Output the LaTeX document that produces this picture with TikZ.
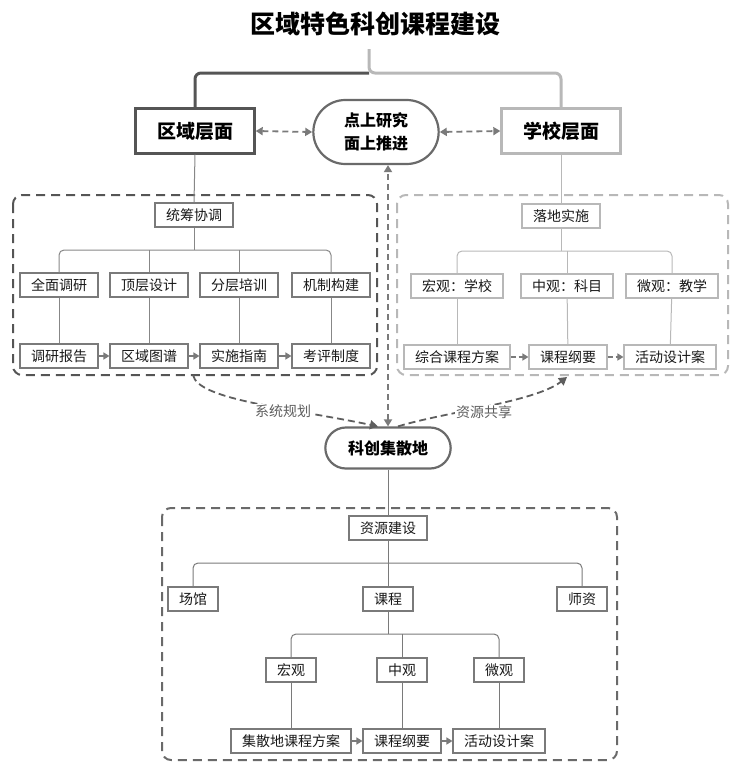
\documentclass[tikz,border=0pt]{standalone}
\usepackage{fontspec}
\setmainfont{Noto Sans CJK SC}
\usetikzlibrary{arrows.meta}
\usetikzlibrary{shapes.misc}

\definecolor{regiongray}{HTML}{555555}
\definecolor{schoolgray}{HTML}{B8B8B8}
\definecolor{boxgray}{HTML}{7A7A7A}
\definecolor{hubgray}{HTML}{6A6A6A}
\definecolor{textgray}{HTML}{5E5E5E}

\begin{document}
\begin{tikzpicture}[x=1pt,y=-1pt,
    smallbox/.style={draw=boxgray,line width=1.1pt,fill=white,text=black!90,inner xsep=11pt,minimum height=24pt,font=\fontsize{14}{16}\selectfont},
    levelbox/.style={line width=2.4pt,fill=white,minimum width=119pt,minimum height=45pt,font=\fontsize{19}{22}\selectfont\bfseries},
    pill/.style={rounded rectangle,draw=hubgray,line width=2.2pt,fill=white,align=center,minimum width=132pt},
    tree/.style={line width=1pt,rounded corners=5pt},
    frame/.style={line width=2pt,dash pattern=on 9pt off 6pt,rounded corners=9pt},
    flow/.style={draw=boxgray,line width=1.4pt,-{Triangle[length=6pt,width=7pt]}},
    link/.style={draw=boxgray,line width=1.8pt,dash pattern=on 6pt off 4pt,{Triangle[length=7pt,width=8pt]}-{Triangle[length=7pt,width=8pt]}},
    curvelink/.style={draw=textgray,line width=1.8pt,dash pattern=on 7pt off 4pt,-{Triangle[length=8pt,width=9pt]}},
    tag/.style={fill=white,inner sep=1pt,text=textgray,font=\fontsize{14}{16}\selectfont}
]
    \useasboundingbox (0,0) rectangle (744,771);

    \node [font=\fontsize{25}{28}\selectfont\bfseries] (title) at (375,24) {区域特色科创课程建设};

    % upper level
    \node [levelbox,draw=regiongray] (region) at (195,131) {区域层面};
    \node [pill,minimum height=64pt,font=\fontsize{16}{23}\selectfont\bfseries] (core) at (376,132) {点上研究\\面上推进};
    \node [levelbox,draw=schoolgray] (school) at (561,131) {学校层面};

    \coordinate (bracetop) at (369,49);
    \coordinate (bracemid) at (369,73);
    \draw [regiongray,line width=3pt,rounded corners=6pt] (region.north) |- (bracemid);
    \draw [schoolgray,line width=3pt,rounded corners=6pt] (school.north) |- (bracemid) -- (bracetop);

    \draw [link] (region.east) -- (core.west);
    \draw [link] (core.east) -- (school.west);

    % dashed frames
    \draw [frame,regiongray] (13,195) rectangle (377,375);
    \draw [frame,schoolgray] (397,195) rectangle (728,375);
    \draw [frame,hubgray] (162,508) rectangle (617,760);

    % region side
    \node [smallbox] (coord) at (194,215) {统筹协调};
    \node [smallbox] (survey) at (59,285) {全面调研};
    \node [smallbox] (design) at (149,285) {顶层设计};
    \node [smallbox] (train) at (239,285) {分层培训};
    \node [smallbox] (mech) at (331,285) {机制构建};
    \node [smallbox] (report) at (59,356) {调研报告};
    \node [smallbox] (atlas) at (149,356) {区域图谱};
    \node [smallbox] (guide) at (239,356) {实施指南};
    \node [smallbox] (assess) at (331,356) {考评制度};
    \coordinate (lfork) at (194,250);
    \draw [tree,boxgray!90] (region.south) -- (coord.north);
    \draw [tree,boxgray!90] (coord.south) -- (lfork);
    \draw [tree,boxgray!90] (survey.north) |- (lfork) -| (mech.north);
    \draw [tree,boxgray!90] (design.north) -- (design.north |- lfork);
    \draw [tree,boxgray!90] (train.north) -- (train.north |- lfork);
    \draw [tree,boxgray!90] (survey) -- (report);
    \draw [tree,boxgray!90] (design) -- (atlas);
    \draw [tree,boxgray!90] (train) -- (guide);
    \draw [tree,boxgray!90] (mech) -- (assess);
    \draw [flow] (report) -- (atlas);
    \draw [flow] (atlas) -- (guide);
    \draw [flow] (guide) -- (assess);

    % school side
    \node [smallbox,draw=schoolgray] (land) at (561,216) {落地实施};
    \node [smallbox,draw=schoolgray] (smacro) at (457,286) {宏观：学校};
    \node [smallbox,draw=schoolgray] (smeso) at (567,286) {中观：科目};
    \node [smallbox,draw=schoolgray] (smicro) at (672,286) {微观：教学};
    \node [smallbox,draw=schoolgray] (splan) at (457,357) {综合课程方案};
    \node [smallbox,draw=schoolgray] (soutline) at (568,357) {课程纲要};
    \node [smallbox,draw=schoolgray] (sactivity) at (670,357) {活动设计案};
    \coordinate (rfork) at (561,251);
    \draw [tree,schoolgray] (school.south) -- (land.north);
    \draw [tree,schoolgray] (land.south) -- (rfork);
    \draw [tree,schoolgray] (smacro.north) |- (rfork) -| (smicro.north);
    \draw [tree,schoolgray] (smeso.north) -- (smeso.north |- rfork);
    \draw [tree,schoolgray] (smacro) -- (splan);
    \draw [tree,schoolgray] (smeso) -- (soutline);
    \draw [tree,schoolgray] (smicro) -- (sactivity);
    \draw [flow,dash pattern=on 5pt off 3pt] (splan) -- (soutline);
    \draw [flow,dash pattern=on 5pt off 3pt] (soutline) -- (sactivity);

    % hub
    \node [pill,minimum height=41pt,font=\fontsize{16}{20}\selectfont\bfseries] (hub) at (388,448) {科创集散地};
    \draw [link] (hub.north) -- (hub.north |- core.south);

    \coordinate (plansrc) at (193,375);
    \coordinate (sharedst) at (567,377);
    \draw [curvelink] (plansrc) .. controls (198,400) and (290,408) .. ([xshift=-10pt]hub.north);
    \draw [curvelink] ([xshift=10pt]hub.north) .. controls (445,412) and (535,402) .. (sharedst);
    \node [tag] (plantag) at (283,411) {系统规划};
    \node [tag] (sharetag) at (484,412) {资源共享};

    % resource side
    \node [smallbox] (build) at (388,528) {资源建设};
    \node [smallbox] (venue) at (193,599) {场馆};
    \node [smallbox] (course) at (388,599) {课程};
    \node [smallbox] (staff) at (582,599) {师资};
    \node [smallbox] (macro) at (291,670) {宏观};
    \node [smallbox] (meso) at (402,670) {中观};
    \node [smallbox] (micro) at (499,670) {微观};
    \node [smallbox] (hplan) at (291,741) {集散地课程方案};
    \node [smallbox] (houtline) at (402,741) {课程纲要};
    \node [smallbox] (hactivity) at (499,741) {活动设计案};
    \coordinate (bfork) at (388,563);
    \coordinate (cfork) at (388,634);
    \draw [tree,boxgray] (hub.south) -- (build.north);
    \draw [tree,boxgray] (build.south) -- (bfork);
    \draw [tree,boxgray] (venue.north) |- (bfork) -| (staff.north);
    \draw [tree,boxgray] (course.north) -- (bfork);
    \draw [tree,boxgray] (course.south) -- (cfork);
    \draw [tree,boxgray] (macro.north) |- (cfork) -| (micro.north);
    \draw [tree,boxgray] (meso.north) -- (meso.north |- cfork);
    \draw [tree,boxgray] (macro) -- (hplan);
    \draw [tree,boxgray] (meso) -- (houtline);
    \draw [tree,boxgray] (micro) -- (hactivity);
    \draw [flow] (hplan) -- (houtline);
    \draw [flow] (houtline) -- (hactivity);
\end{tikzpicture}
\end{document}
